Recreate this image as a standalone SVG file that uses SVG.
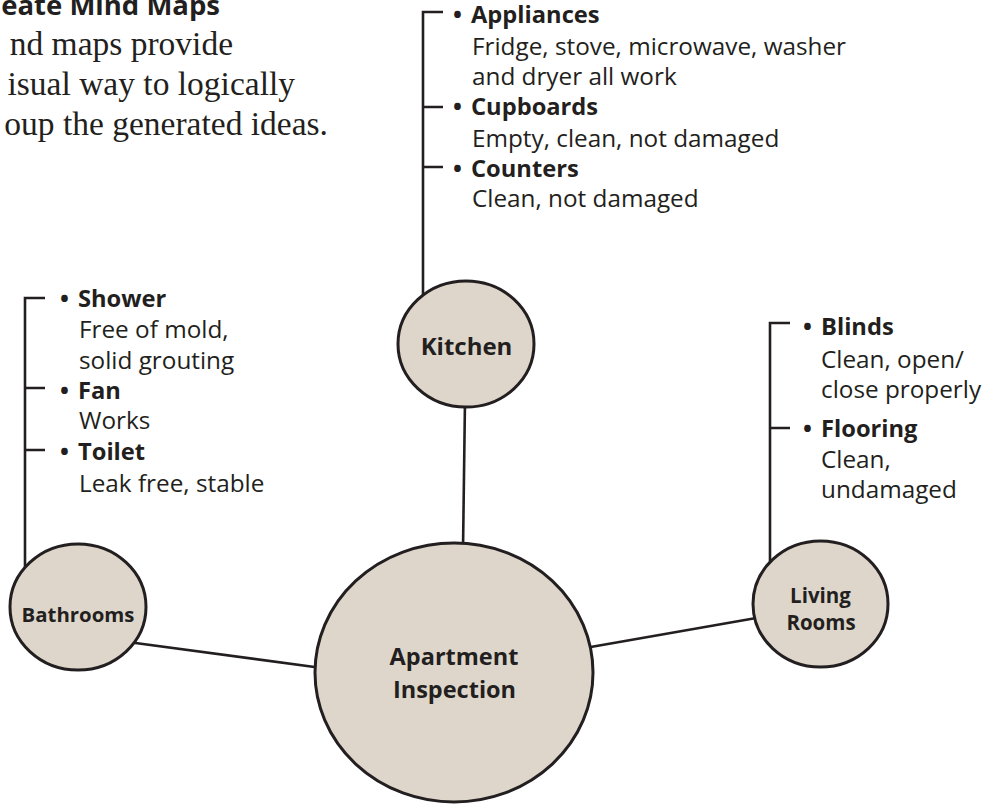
<svg xmlns="http://www.w3.org/2000/svg" width="986" height="805" viewBox="0 0 986 805">
  <style>
    .bg { fill: #ffffff; }
    .node { fill: #ded6ca; stroke: #231f20; stroke-width: 3; }
    .link { fill: none; stroke: #231f20; stroke-width: 2.6; }
    .label { font-family: "Open Sans", "Liberation Sans", sans-serif; font-weight: 700; fill: #231f20; text-anchor: middle; }
    .item { font-family: "Open Sans", "Liberation Sans", sans-serif; font-weight: 700; font-size: 23.7px; fill: #231f20; }
    .desc { font-family: "Open Sans", "Liberation Sans", sans-serif; font-size: 24.3px; fill: #231f20; }
    .intro { font-family: "Liberation Serif", serif; font-size: 33.5px; fill: #231f20; text-anchor: end; }
    .title { font-family: "Open Sans", "Liberation Sans", sans-serif; font-weight: 700; font-size: 27.5px; fill: #231f20; text-anchor: end; }
  </style>

  <rect class="bg" x="0" y="0" width="986" height="805"/>

  <!-- intro paragraph -->
  <g id="intro">
    <text class="title" x="220" y="15">eate Mind Maps</text>
    <text class="intro" x="233" y="55">nd maps provide</text>
    <text class="intro" x="295" y="95">isual way to logically</text>
    <text class="intro" x="328" y="135">oup the generated ideas.</text>
  </g>

  <!-- connectors: spokes from the hub and the checklist brackets -->
  <g id="connectors">
    <line class="link" x1="465" y1="400" x2="463" y2="550"/>
    <line class="link" x1="128" y1="642" x2="322" y2="668"/>
    <line class="link" x1="585" y1="648" x2="762" y2="617"/>
    <path class="link" d="M443,12 H423 V300 M423,107 H443 M423,167 H443"/>
    <path class="link" d="M45,298 H25 V574 M25,388 H45 M25,450 H45"/>
    <path class="link" d="M790,323 H770 V568 M770,428 H790"/>
  </g>

  <g id="hub">
    <ellipse class="node" cx="454" cy="672.5" rx="139" ry="129.5"/>
    <text class="label" x="454" y="665" font-size="23.5">Apartment</text>
    <text class="label" x="454.5" y="698" font-size="23.5">Inspection</text>
  </g>

  <g id="kitchen">
    <ellipse class="node" cx="466" cy="344" rx="68" ry="63"/>
    <text class="label" x="466.5" y="355" font-size="24">Kitchen</text>
  </g>

  <g id="bathrooms">
    <ellipse class="node" cx="78" cy="607" rx="68" ry="63"/>
    <text class="label" x="78" y="622" font-size="20.4">Bathrooms</text>
  </g>

  <g id="living-rooms">
    <ellipse class="node" cx="820.5" cy="604" rx="67.5" ry="63"/>
    <text class="label" x="820.5" y="603" font-size="20.5">Living</text>
    <text class="label" x="821" y="630" font-size="20.5">Rooms</text>
  </g>

  <!-- kitchen checklist -->
  <g id="kitchen-items">
    <text class="item" y="23"><tspan x="453">• </tspan><tspan x="471">Appliances</tspan></text>
    <text class="desc" x="472" y="55">Fridge, stove, microwave, washer</text>
    <text class="desc" x="472" y="85">and dryer all work</text>
    <text class="item" y="115"><tspan x="453">• </tspan><tspan x="471">Cupboards</tspan></text>
    <text class="desc" x="472" y="147">Empty, clean, not damaged</text>
    <text class="item" y="177"><tspan x="453">• </tspan><tspan x="471">Counters</tspan></text>
    <text class="desc" x="472" y="207">Clean, not damaged</text>
  </g>

  <!-- bathroom checklist -->
  <g id="bathroom-items">
    <text class="item" y="307"><tspan x="60">• </tspan><tspan x="78">Shower</tspan></text>
    <text class="desc" x="79" y="338">Free of mold,</text>
    <text class="desc" x="79" y="369">solid grouting</text>
    <text class="item" y="399"><tspan x="60">• </tspan><tspan x="78">Fan</tspan></text>
    <text class="desc" x="79" y="429">Works</text>
    <text class="item" y="460"><tspan x="60">• </tspan><tspan x="78">Toilet</tspan></text>
    <text class="desc" x="79" y="492">Leak free, stable</text>
  </g>

  <!-- living room checklist -->
  <g id="living-items">
    <text class="item" y="335"><tspan x="803">• </tspan><tspan x="821">Blinds</tspan></text>
    <text class="desc" x="821" y="368">Clean, open/</text>
    <text class="desc" x="821" y="398">close properly</text>
    <text class="item" y="437"><tspan x="803">• </tspan><tspan x="821">Flooring</tspan></text>
    <text class="desc" x="821" y="468">Clean,</text>
    <text class="desc" x="821" y="498">undamaged</text>
  </g>
</svg>
